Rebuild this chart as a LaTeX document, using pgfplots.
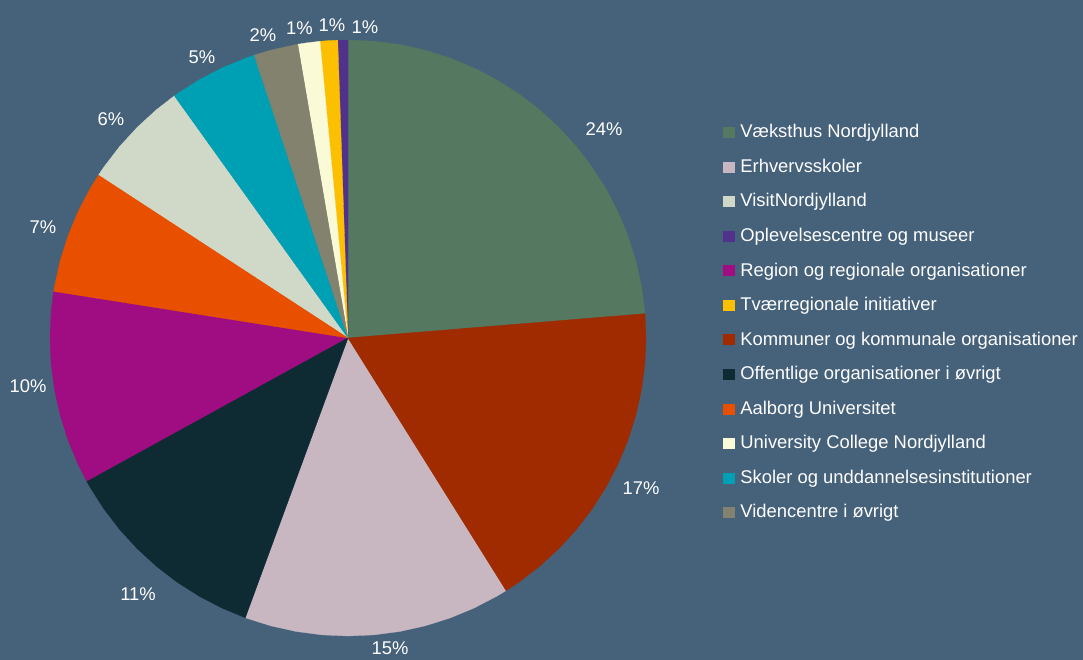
\documentclass[border=0pt]{standalone}
\usepackage{pgfplots}
\pgfplotsset{compat=1.18}
\usepgfplotslibrary{polar}
\usepackage{fontspec}
\setmainfont{Liberation Sans}
\definecolor{bg}{RGB}{70,97,122}
\definecolor{cA}{RGB}{84,120,96}
\definecolor{cB}{RGB}{200,183,193}
\definecolor{cC}{RGB}{208,216,200}
\definecolor{cD}{RGB}{80,50,140}
\definecolor{cE}{RGB}{160,12,130}
\definecolor{cF}{RGB}{252,192,0}
\definecolor{cG}{RGB}{160,43,0}
\definecolor{cH}{RGB}{14,42,50}
\definecolor{cI}{RGB}{232,80,0}
\definecolor{cJ}{RGB}{250,250,215}
\definecolor{cK}{RGB}{0,160,180}
\definecolor{cL}{RGB}{130,130,110}
\begin{document}
\begin{tikzpicture}
\begin{axis}[
  width=1083pt, height=660pt, scale only axis,
  xmin=-1.1678, xmax=2.4664, ymin=-1.0805, ymax=1.1342,
  axis lines=none, xtick=\empty, ytick=\empty,
  axis background/.style={fill=bg},
  clip=false,
  data cs=polar,
  font=\fontsize{18.4}{22}\selectfont,
  legend image code/.code={\fill[#1] (0pt,-4pt) rectangle (11pt,6pt);},
  legend style={at={(axis cs:1.258,0.7159)}, anchor=north west, draw=none, fill=none,
    text=white, inner sep=0pt, row sep=17.55pt,
    nodes={inner sep=0pt, text height=13pt, text depth=4pt, font=\fontsize{18.4}{22}\selectfont},
    /tikz/every odd column/.style={column sep=6pt}},
  legend cell align=left,
]
% 1 Vaeksthus Nordjylland 23.7%
\addplot[fill=cA, draw=cA, line width=0.3pt] coordinates {(0,0) (90,1) (85,1) (80,1) (75,1) (70,1) (65,1) (60,1) (55,1) (50,1) (45,1) (40,1) (35,1) (30,1) (25,1) (20,1) (15,1) (10,1) (5,1) (4.68,1) (0,0)};
\addlegendentry{Væksthus Nordjylland}
% 3 Erhvervsskoler 14.5%
\addplot[fill=cB, draw=cB, line width=0.3pt] coordinates {(0,0) (-57.96,1) (-60,1) (-65,1) (-70,1) (-75,1) (-80,1) (-85,1) (-90,1) (-95,1) (-100,1) (-105,1) (-110,1) (-110.16,1) (0,0)};
\addlegendentry{Erhvervsskoler}
% 7 VisitNordjylland 5.9%
\addplot[fill=cC, draw=cC, line width=0.3pt] coordinates {(0,0) (-213.12,1) (-215,1) (-220,1) (-225,1) (-230,1) (-234.36,1) (0,0)};
\addlegendentry{VisitNordjylland}
% 12 Oplevelsescentre og museer 0.55%
\addplot[fill=cD, draw=cD, line width=0.3pt] coordinates {(0,0) (-268.02,1) (-270,1) (0,0)};
\addlegendentry{Oplevelsescentre og museer}
% 5 Region og regionale organisationer 10.5%
\addplot[fill=cE, draw=cE, line width=0.3pt] coordinates {(0,0) (-151.2,1) (-155,1) (-160,1) (-165,1) (-170,1) (-175,1) (-180,1) (-185,1) (-189,1) (0,0)};
\addlegendentry{Region og regionale organisationer}
% 11 Tvaerregionale initiativer 0.95%
\addplot[fill=cF, draw=cF, line width=0.3pt] coordinates {(0,0) (-264.6,1) (-266,1) (-268.02,1) (0,0)};
\addlegendentry{Tværregionale initiativer}
% 2 Kommuner og kommunale organisationer 17.4%
\addplot[fill=cG, draw=cG, line width=0.3pt] coordinates {(0,0) (4.68,1) (0,1) (-5,1) (-10,1) (-15,1) (-20,1) (-25,1) (-30,1) (-35,1) (-40,1) (-45,1) (-50,1) (-55,1) (-57.96,1) (0,0)};
\addlegendentry{Kommuner og kommunale organisationer}
% 4 Offentlige organisationer i oevrigt 11.4%
\addplot[fill=cH, draw=cH, line width=0.3pt] coordinates {(0,0) (-110.16,1) (-115,1) (-120,1) (-125,1) (-130,1) (-135,1) (-140,1) (-145,1) (-150,1) (-151.2,1) (0,0)};
\addlegendentry{Offentlige organisationer i øvrigt}
% 6 Aalborg Universitet 6.7%
\addplot[fill=cI, draw=cI, line width=0.3pt] coordinates {(0,0) (-189,1) (-190,1) (-195,1) (-200,1) (-205,1) (-210,1) (-213.12,1) (0,0)};
\addlegendentry{Aalborg Universitet}
% 10 University College Nordjylland 1.2%
\addplot[fill=cJ, draw=cJ, line width=0.3pt] coordinates {(0,0) (-260.28,1) (-262,1) (-264.6,1) (0,0)};
\addlegendentry{University College Nordjylland}
% 8 Skoler og uddannelsesinstitutioner 4.8%
\addplot[fill=cK, draw=cK, line width=0.3pt] coordinates {(0,0) (-234.36,1) (-235,1) (-240,1) (-245,1) (-250,1) (-251.64,1) (0,0)};
\addlegendentry{Skoler og unddannelsesinstitutioner}
% 9 Videncentre i oevrigt 2.4%
\addplot[fill=cL, draw=cL, line width=0.3pt] coordinates {(0,0) (-251.64,1) (-255,1) (-260,1) (-260.28,1) (0,0)};
\addlegendentry{Videncentre i øvrigt}
% percentage labels
\begin{scope}[every node/.style={text=white, font=\fontsize{18.4}{22}\selectfont, inner sep=0pt}]
\node at (axis cs:0.8591,0.6997) {24\%};
\node at (axis cs:0.9832,-0.5034) {17\%};
\node at (axis cs:0.1409,-1.0403) {15\%};
\node at (axis cs:-0.7047,-0.8591) {11\%};
\node at (axis cs:-1.0738,-0.1611) {10\%};
\node at (axis cs:-1.0235,0.3708) {7\%};
\node at (axis cs:-0.7953,0.7332) {6\%};
\node at (axis cs:-0.4899,0.9430) {5\%};
\node at (axis cs:-0.2852,1.0151) {2\%};
\node at (axis cs:-0.1628,1.0403) {1\%};
\node at (axis cs:-0.0537,1.0493) {1\%};
\node at (axis cs:0.0570,1.0436) {1\%};
\end{scope}
\end{axis}
\end{tikzpicture}
\end{document}
